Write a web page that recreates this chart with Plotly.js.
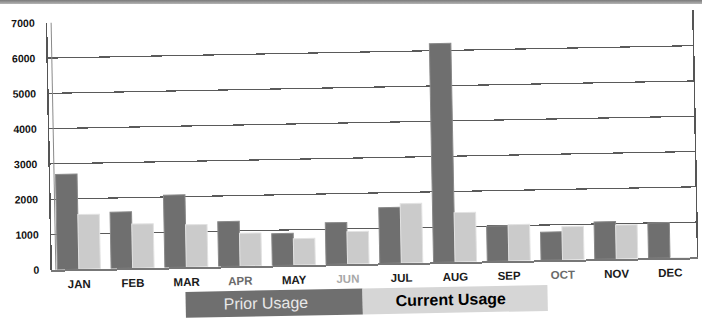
<!DOCTYPE html>
<html>
<head>
<meta charset="utf-8">
<script src="https://cdn.plot.ly/plotly-3.0.1.min.js"></script>
<style>
  html, body { margin: 0; padding: 0; background: #ffffff; overflow: hidden; }
  body { width: 702px; height: 327px; position: relative; }
  #topband { position: absolute; left: 0; top: 0; width: 702px; height: 4px;
             background: linear-gradient(#7a7a7a, #b5b5b5); }
  #chart { position: absolute; left: 0; top: 0; width: 702px; height: 327px;
           transform: rotate(-1.1deg); transform-origin: 351px 163px; }
</style>
</head>
<body>
<div id="topband"></div>
<div id="chart"></div>
<script>
// Monthly usage, prior period vs current period
const months = ['JAN', 'FEB', 'MAR', 'APR', 'MAY', 'JUN', 'JUL', 'AUG', 'SEP', 'OCT', 'NOV', 'DEC'];
const priorUsage = [2700, 1600, 2050, 1270, 900, 1180, 1580, 6200, 1000, 800, 1060, 1000];
const currentUsage = [1550, 1250, 1200, 930, 750, 920, 1680, 1400, 1030, 940, 960, 0];
const seriesNames = ['Prior Usage', 'Current Usage'];
const yTicks = [0, 1000, 2000, 3000, 4000, 5000, 6000, 7000];
// print shade of each month label
const monthShades = ['#1a1a1a', '#1a1a1a', '#1a1a1a', '#6a6a6a', '#1a1a1a', '#a8a8a8',
                     '#1a1a1a', '#1a1a1a', '#1a1a1a', '#6a6a6a', '#1a1a1a', '#1a1a1a'];

const priorColor = '#6f6f6f';
const currentColor = '#cbcbcb';

const traces = [
  {
    type: 'bar', name: seriesNames[0], x: months, y: priorUsage,
    marker: { color: priorColor, line: { color: '#8a8a8a', width: 1 } },
    hoverinfo: 'x+y'
  },
  {
    type: 'bar', name: seriesNames[1], x: months, y: currentUsage,
    marker: { color: currentColor, line: { color: '#e2e2e2', width: 1 } },
    hoverinfo: 'x+y'
  }
];

// Legend drawn as two filled blocks under the axis
const legX0 = (183 - 50) / 645, legMid = (360 - 50) / 645, legX1 = (545 - 50) / 645;
const legY0 = -0.205, legY1 = -0.10;

const layout = {
  width: 702, height: 327,
  margin: { l: 50, r: 7, t: 17, b: 63 },
  paper_bgcolor: 'rgba(0,0,0,0)',
  plot_bgcolor: '#ffffff',
  showlegend: false,
  barmode: 'group',
  bargap: 0.2,
  bargroupgap: 0,
  font: { family: 'Liberation Sans, Arial, sans-serif', color: '#111111' },
  xaxis: {
    type: 'category',
    tickvals: months,
    ticktext: months.map((m, i) => '<span style="color:' + monthShades[i] + '">' + m + '</span>'),
    tickfont: { size: 11.5, family: 'Liberation Sans, Arial, sans-serif', weight: 'bold', color: '#1a1a1a' },
    ticks: 'outside', ticklen: 3, tickcolor: 'rgba(0,0,0,0)',
    showline: true, linecolor: '#777777', linewidth: 2,
    showgrid: false, fixedrange: true
  },
  yaxis: {
    range: [0, 7000],
    tickvals: yTicks,
    ticktext: yTicks.map(String),
    tickfont: { size: 10.5, family: 'Liberation Sans, Arial, sans-serif', weight: 'bold', color: '#111111' },
    ticks: 'outside', ticklen: 9, tickcolor: 'rgba(0,0,0,0)',
    showgrid: true, gridcolor: '#5a5a5a', gridwidth: 1.2,
    showline: true, linecolor: '#555555', linewidth: 1.5, mirror: true,
    zeroline: false, fixedrange: true
  },
  shapes: [
    { type: 'rect', xref: 'paper', yref: 'paper', x0: legX0, x1: legMid, y0: legY0, y1: legY1,
      fillcolor: priorColor, line: { width: 0 }, layer: 'above' },
    { type: 'rect', xref: 'paper', yref: 'paper', x0: legMid, x1: legX1, y0: legY0, y1: legY1,
      fillcolor: '#d6d6d6', line: { width: 0 }, layer: 'above' },
    // inner wall edge next to the value axis
    { type: 'line', xref: 'paper', yref: 'paper', x0: 0.006, x1: 0.006, y0: 0, y1: 1,
      line: { color: '#8a8a8a', width: 1 } }
  ],
  annotations: [
    { xref: 'paper', yref: 'paper', x: (263 - 50) / 645, y: (legY0 + legY1) / 2,
      text: seriesNames[0], showarrow: false, xanchor: 'center', yanchor: 'middle',
      font: { size: 16, color: '#e8e8e8', family: 'Liberation Sans, Arial, sans-serif' } },
    { xref: 'paper', yref: 'paper', x: (448 - 50) / 645, y: (legY0 + legY1) / 2,
      text: '<b>' + seriesNames[1] + '</b>', showarrow: false, xanchor: 'center', yanchor: 'middle',
      font: { size: 16, color: '#000000', family: 'Liberation Sans, Arial, sans-serif' } }
  ]
};

Plotly.newPlot('chart', traces, layout, { displayModeBar: false, staticPlot: true });
</script>
</body>
</html>
